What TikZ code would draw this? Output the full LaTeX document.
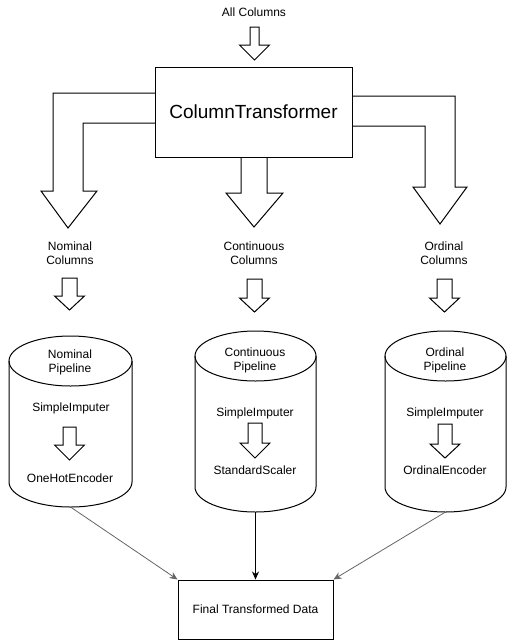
\documentclass[tikz,border=0pt]{standalone}
\usepackage{fontspec}
\setmainfont{Liberation Sans}
\usepackage{tikz}
\usetikzlibrary{arrows.meta}
\newcommand\blockarrow[5]{
  \draw (#1-#3,#2)--(#1-#3,#4)--(#1-15,#4)--(#1,#5)--(#1+15,#4)--(#1+#3,#4)--(#1+#3,#2)--cycle;
}
\newcommand\drum[5]{
  \draw (#2-#5,#3)--(#2-#5,#4) arc (180:360:#5pt and 25pt)--(#2+#5,#3);
  \draw (#2,#3) ellipse (#5pt and 25pt);
  \coordinate (#1) at (#2,#4+25);
}
\tikzset{
  txt/.style={align=center, font=\fontsize{12}{14}\selectfont, inner sep=0pt},
  flow/.style={-{Stealth[length=8pt,width=7pt]}, line width=0.8pt}
}

\begin{document}
\begin{tikzpicture}[x=1pt, y=-1pt, line width=1pt]
  \useasboundingbox[fill=white] (0,0) rectangle (508,641);
  \node[txt] (all) at (254,12) {All Columns};
  \blockarrow{254.5}{27}{4.5}{45}{60}
  \draw (155,93)--(53,93)--(53,191)--(41,191)--(68,228)--(97,191)--(83,191)--(83,123)--(155,123);
  \draw (241,157)--(241,193)--(226,193)--(254,227)--(283,193)--(267,193)--(267,157);
  \draw (352,96)--(455,96)--(455,187)--(467,187)--(440,224)--(413,187)--(425,187)--(425,126)--(352,126);
  \node[draw, minimum width=197pt, minimum height=90pt, font=\fontsize{19}{23}\selectfont] (ct) at (253.5,112) {ColumnTransformer};
  \node[txt] (nomcols) at (70,253) {Nominal\\Columns};
  \node[txt] (concols) at (254,253) {Continuous\\Columns};
  \node[txt] (ordcols) at (444,253) {Ordinal\\Columns};
  \blockarrow{69.5}{278}{7.5}{296}{310}
  \blockarrow{254.5}{279}{7.5}{298}{312}
  \blockarrow{444.5}{279}{7.5}{298}{312}
  \drum{nombot}{70.5}{361}{482}{61.5}
  \drum{conbot}{255.5}{356}{487}{60.5}
  \drum{ordbot}{445.5}{356}{487}{60.5}
  \node[txt] (nompipe) at (70,362) {Nominal\\Pipeline};
  \node[txt] (conpipe) at (255,360) {Continuous\\Pipeline};
  \node[txt] (ordpipe) at (445,360) {Ordinal\\Pipeline};
  \node[txt] (nomimp) at (71,408) {SimpleImputer};
  \node[txt] (conimp) at (255,413) {SimpleImputer};
  \node[txt] (ordimp) at (445,413) {SimpleImputer};
  \blockarrow{69.5}{427}{6.5}{445}{460}
  \blockarrow{255}{423}{7}{443}{458}
  \blockarrow{445}{424}{7}{444}{458}
  \node[txt] (onehot) at (70,478) {OneHotEncoder};
  \node[txt] (scaler) at (255,470) {StandardScaler};
  \node[txt] (ordenc) at (445,470) {OrdinalEncoder};
  \node[draw, minimum width=155pt, minimum height=59pt, font=\fontsize{12}{14}\selectfont] (final) at (255.5,609.5) {Final Transformed Data};
  \draw[flow, black!60] (nombot) -- (final.north west);
  \draw[flow] (conbot) -- (final.north);
  \draw[flow, black!60] (ordbot) -- (final.north east);
\end{tikzpicture}
\end{document}
